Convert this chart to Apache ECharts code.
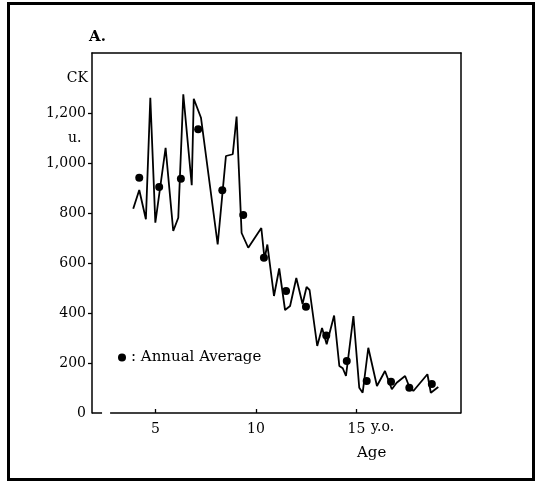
<!DOCTYPE html>
<html>
<head>
<meta charset="utf-8">
<script src="https://cdn.jsdelivr.net/npm/echarts@6/dist/echarts.min.js"></script>
<style>
  html, body { margin: 0; padding: 0; background: #fff; }
  #chart { width: 537px; height: 483px; }
</style>
</head>
<body>
<div id="chart"></div>
<script>
// CK (u.) readings by age (years)
const ages = [3.90, 4.20, 4.53, 4.75, 5.00, 5.51, 5.89, 6.14, 6.39, 6.81, 6.91, 7.27,
  8.10, 8.51, 8.85, 9.04, 9.29, 9.62, 10.27, 10.43, 10.57, 10.90, 11.16, 11.45, 11.70,
  12.01, 12.32, 12.52, 12.67, 13.05, 13.29, 13.52, 13.89, 14.15, 14.32, 14.48, 14.85,
  15.14, 15.31, 15.59, 16.02, 16.42, 16.76, 17.00, 17.42, 17.58, 17.83, 18.53, 18.70, 19.07];
const ckValues = [817, 892, 775, 1261, 761, 1061, 728, 781, 1275, 911, 1257, 1181,
  674, 1028, 1035, 1186, 720, 661, 740, 616, 674, 468, 578, 412, 428,
  540, 436, 504, 492, 268, 340, 275, 390, 188, 179, 148, 388,
  101, 81, 261, 108, 168, 95, 121, 148, 115, 88, 155, 81, 104];

// annual averages
const avgAges = [4.20, 5.19, 6.27, 7.13, 8.33, 9.37, 10.40, 11.50, 12.49, 13.50, 14.52, 15.51, 16.72, 17.63, 18.75];
const avgValues = [941, 904, 937, 1135, 891, 792, 621, 488, 425, 310, 208, 128, 125, 101, 116];

// axis ticks
const xTicks = [5, 10, 15];
const yTicks = [0, 200, 400, 600, 800, 1000, 1200];

const xMin = 1.85, xMax = 20.2, yMin = 0, yMax = 1440;
const FONT = 'DejaVu Serif';
const INK = '#000';

const lineData = ages.map((a, i) => [a, ckValues[i]]);
const avgData = avgAges.map((a, i) => [a, avgValues[i]]);

const chart = echarts.init(document.getElementById('chart'), null, { renderer: 'canvas' });

chart.setOption({
  animation: false,
  backgroundColor: '#fff',
  grid: { left: 92, top: 53, width: 369, height: 360, show: false },
  legend: {
    data: [{ name: 'Annual Average', icon: 'circle', itemStyle: { color: INK, opacity: 1 } }],
    formatter: ': {name}',
    left: 113, top: 345,
    itemWidth: 8, itemHeight: 8, itemGap: 4,
    textStyle: { fontFamily: FONT, fontSize: 15, color: INK }
  },
  xAxis: [
    {
      type: 'value', min: xMin, max: xMax, position: 'bottom',
      axisLine: { show: false, onZero: false },
      axisTick: { show: true, inside: true, length: 4, customValues: xTicks, lineStyle: { color: INK, width: 1.3 } },
      axisLabel: { customValues: xTicks, margin: 9, fontFamily: FONT, fontSize: 14, color: INK },
      splitLine: { show: false }
    },
    {
      type: 'value', min: xMin, max: xMax, position: 'top',
      axisLine: { show: true, onZero: false, lineStyle: { color: INK, width: 1.5 } },
      axisTick: { show: false }, axisLabel: { show: false }, splitLine: { show: false }
    }
  ],
  yAxis: [
    {
      type: 'value', min: yMin, max: yMax, position: 'left',
      axisLine: { show: true, onZero: false, lineStyle: { color: INK, width: 1.5 } },
      axisTick: { show: true, length: 4, customValues: yTicks.slice(1), lineStyle: { color: INK, width: 1.3 } },
      axisLabel: {
        customValues: yTicks, margin: 6, fontFamily: FONT, fontSize: 14, color: INK,
        formatter: v => v.toLocaleString('en-US')
      },
      splitLine: { show: false }
    },
    {
      type: 'value', min: yMin, max: yMax, position: 'right',
      axisLine: { show: true, onZero: false, lineStyle: { color: INK, width: 1.5 } },
      axisTick: { show: false }, axisLabel: { show: false }, splitLine: { show: false }
    }
  ],
  series: [
    {
      name: 'CK',
      type: 'line',
      data: lineData,
      showSymbol: false,
      symbol: 'none',
      lineStyle: { color: INK, width: 1.8 },
      z: 3,
      markLine: {
        silent: true,
        symbol: ['none', 'none'],
        label: { show: false },
        emphasis: { disabled: true },
        lineStyle: { color: INK, width: 1.5, type: 'solid', opacity: 1 },
        data: [
          [{ coord: [xMin, 0] }, { coord: [xMin + 0.5, 0] }],
          [{ coord: [xMin + 0.9, 0] }, { coord: [xMax, 0] }]
        ]
      }
    },
    {
      name: 'Annual Average',
      type: 'scatter',
      data: avgData,
      symbol: 'circle',
      symbolSize: 8,
      itemStyle: { color: INK, opacity: 1 },
      z: 4
    }
  ],
  graphic: [
    { type: 'rect', shape: { x: 8.5, y: 3.5, width: 525, height: 476 },
      style: { fill: 'none', stroke: INK, lineWidth: 3 }, silent: true },
    { type: 'text', left: 89, top: 30,
      style: { text: 'A.', font: 'bold 15px "DejaVu Serif"', fill: INK } },
    { type: 'text', right: 537 - 88, top: 71,
      style: { text: 'CK', font: '14px "DejaVu Serif"', fill: INK, textAlign: 'right' } },
    { type: 'text', left: 68, top: 131,
      style: { text: 'u.', font: '14px "DejaVu Serif"', fill: INK } },
    { type: 'text', left: 371, top: 420,
      style: { text: 'y.o.', font: '14px "DejaVu Serif"', fill: INK } },
    { type: 'text', left: 357, top: 446,
      style: { text: 'Age', font: '15px "DejaVu Serif"', fill: INK } }
  ]
});
</script>
</body>
</html>
